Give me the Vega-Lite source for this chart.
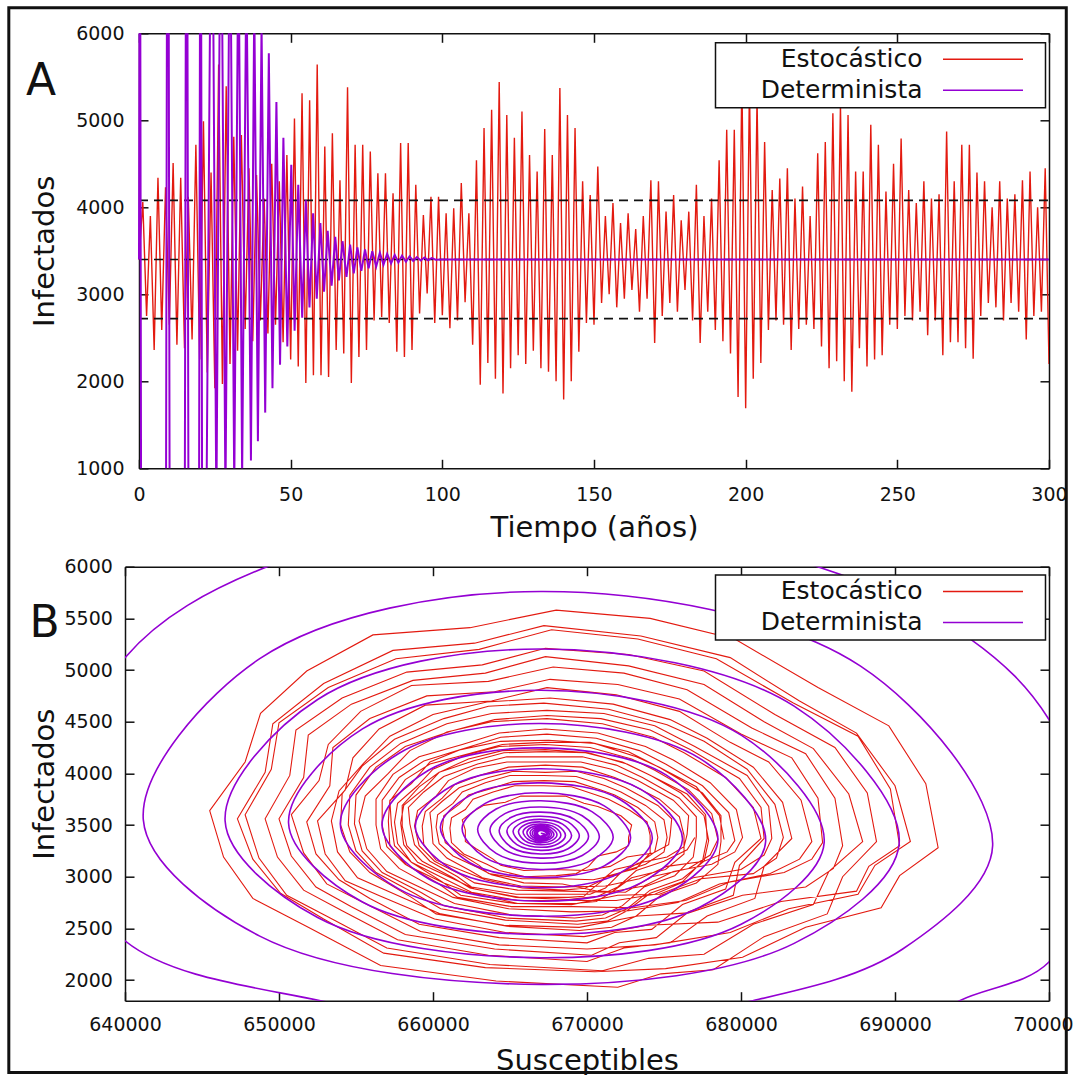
{
"$schema":"https://vega.github.io/schema/vega-lite/v6.json",
"background":"white",
"padding":{"left":7,"top":6.3,"right":0,"bottom":0},
"autosize":{"type":"pad"},
"spacing":98.4,
"bounds":"flush",
"resolve":{"scale":{"color":"independent"}},
"config":{
"font":"DejaVu Sans",
"view":{"stroke":null},
"axis":{"labelFont":"DejaVu Sans","labelFontSize":19,"labelColor":"#111","titleFont":"DejaVu Sans","titleFontSize":29,"titleFontWeight":"normal","titleColor":"#111","domainColor":"#111","domainWidth":1.5,"tickColor":"#111","tickWidth":1.5,"tickSize":-9,"grid":false,"labelFlush":false,"labelOverlap":false},
"legend":{"labelFont":"DejaVu Sans","labelFontSize":25,"labelColor":"#111","labelAlign":"right","labelOffset":-73,"labelLimit":0,"symbolType":"M-4,0H4M5.5,0","symbolSize":400,"symbolOffset":251,"symbolStrokeWidth":1.6,"padding":4,"rowPadding":5,"fillColor":"white","strokeColor":"#111","strokeWidth":1.5}
},
"datasets":{
"dl":[{"v":4080},{"v":3400},{"v":2720}],
"ar":[{"t":0,"v":3400},{"t":1.25,"v":4060},{"t":2.5,"v":2750},{"t":3.75,"v":3900},{"t":5,"v":2360},{"t":6.25,"v":4340},{"t":7.5,"v":2590},{"t":8.75,"v":4230},{"t":10,"v":2650},{"t":11.25,"v":4510},{"t":12.5,"v":2420},{"t":13.75,"v":4340},{"t":15,"v":2380},{"t":16.25,"v":4120},{"t":17.5,"v":2480},{"t":18.75,"v":4720},{"t":20,"v":2250},{"t":21.25,"v":4990},{"t":22.5,"v":2100},{"t":23.75,"v":4400},{"t":25,"v":1920},{"t":26.25,"v":5640},{"t":27.5,"v":1970},{"t":28.75,"v":5390},{"t":30,"v":2200},{"t":31.25,"v":4810},{"t":32.5,"v":2350},{"t":33.75,"v":4830},{"t":35,"v":2600},{"t":36.25,"v":4450},{"t":37.5,"v":2460},{"t":38.75,"v":4370},{"t":40,"v":2700},{"t":41.25,"v":4100},{"t":42.5,"v":2550},{"t":43.75,"v":4500},{"t":45,"v":2650},{"t":46.25,"v":4300},{"t":47.5,"v":2450},{"t":48.75,"v":4600},{"t":50,"v":2250},{"t":51.25,"v":5020},{"t":52.5,"v":2170},{"t":53.75,"v":5310},{"t":55,"v":1980},{"t":56.25,"v":5230},{"t":57.5,"v":2070},{"t":58.75,"v":5640},{"t":60,"v":2070},{"t":61.25,"v":4700},{"t":62.5,"v":2050},{"t":63.75,"v":4850},{"t":65,"v":2360},{"t":66.25,"v":4310},{"t":67.5,"v":2320},{"t":68.75,"v":5380},{"t":70,"v":1980},{"t":71.25,"v":4720},{"t":72.5,"v":2280},{"t":73.75,"v":4720},{"t":75,"v":2360},{"t":76.25,"v":4640},{"t":77.5,"v":2700},{"t":78.75,"v":4390},{"t":80,"v":2740},{"t":81.25,"v":4390},{"t":82.5,"v":2670},{"t":83.75,"v":4160},{"t":85,"v":2340},{"t":86.25,"v":4740},{"t":87.5,"v":2280},{"t":88.75,"v":4740},{"t":90,"v":2360},{"t":91.25,"v":4260},{"t":92.5,"v":2780},{"t":93.75,"v":3910},{"t":95,"v":3010},{"t":96.25,"v":4120},{"t":97.5,"v":2670},{"t":98.75,"v":4120},{"t":100,"v":2760},{"t":101.25,"v":3930},{"t":102.5,"v":2610},{"t":103.75,"v":3990},{"t":105,"v":2700},{"t":106.25,"v":4280},{"t":107.5,"v":2910},{"t":108.75,"v":3930},{"t":110,"v":2420},{"t":111.25,"v":4540},{"t":112.5,"v":1960},{"t":113.75,"v":4910},{"t":115,"v":2210},{"t":116.25,"v":5120},{"t":117.5,"v":2030},{"t":118.75,"v":5440},{"t":120,"v":1860},{"t":121.25,"v":5060},{"t":122.5,"v":2150},{"t":123.75,"v":4800},{"t":125,"v":2300},{"t":126.25,"v":5100},{"t":127.5,"v":2200},{"t":128.75,"v":4600},{"t":130,"v":2350},{"t":131.25,"v":4410},{"t":132.5,"v":2150},{"t":133.75,"v":4900},{"t":135,"v":2110},{"t":136.25,"v":4600},{"t":137.5,"v":2000},{"t":138.75,"v":5370},{"t":140,"v":1790},{"t":141.25,"v":5060},{"t":142.5,"v":2000},{"t":143.75,"v":4910},{"t":145,"v":2340},{"t":146.25,"v":4300},{"t":147.5,"v":2670},{"t":148.75,"v":4140},{"t":150,"v":2650},{"t":151.25,"v":4470},{"t":152.5,"v":2900},{"t":153.75,"v":3900},{"t":155,"v":3000},{"t":156.25,"v":4050},{"t":157.5,"v":2850},{"t":158.75,"v":3820},{"t":160,"v":2950},{"t":161.25,"v":3930},{"t":162.5,"v":3050},{"t":163.75,"v":3750},{"t":165,"v":2800},{"t":166.25,"v":3900},{"t":167.5,"v":2950},{"t":168.75,"v":4310},{"t":170,"v":2440},{"t":171.25,"v":4300},{"t":172.5,"v":2750},{"t":173.75,"v":3950},{"t":175,"v":2900},{"t":176.25,"v":4140},{"t":177.5,"v":2800},{"t":178.75,"v":3850},{"t":180,"v":3050},{"t":181.25,"v":3950},{"t":182.5,"v":2700},{"t":183.75,"v":4260},{"t":185,"v":2440},{"t":186.25,"v":3900},{"t":187.5,"v":2800},{"t":188.75,"v":4100},{"t":190,"v":2590},{"t":191.25,"v":4540},{"t":192.5,"v":2460},{"t":193.75,"v":4890},{"t":195,"v":2320},{"t":196.25,"v":4890},{"t":197.5,"v":1820},{"t":198.75,"v":5500},{"t":200,"v":1690},{"t":201.25,"v":5400},{"t":202.5,"v":2030},{"t":203.75,"v":5250},{"t":205,"v":2210},{"t":206.25,"v":4750},{"t":207.5,"v":2590},{"t":208.75,"v":4200},{"t":210,"v":2700},{"t":211.25,"v":4330},{"t":212.5,"v":2650},{"t":213.75,"v":4450},{"t":215,"v":2360},{"t":216.25,"v":4100},{"t":217.5,"v":2600},{"t":218.75,"v":4240},{"t":220,"v":2650},{"t":221.25,"v":3900},{"t":222.5,"v":2600},{"t":223.75,"v":4620},{"t":225,"v":2400},{"t":226.25,"v":4750},{"t":227.5,"v":2150},{"t":228.75,"v":5080},{"t":230,"v":2230},{"t":231.25,"v":5180},{"t":232.5,"v":2000},{"t":233.75,"v":5060},{"t":235,"v":1880},{"t":236.25,"v":4410},{"t":237.5,"v":2380},{"t":238.75,"v":4410},{"t":240,"v":2170},{"t":241.25,"v":4950},{"t":242.5,"v":2250},{"t":243.75,"v":4720},{"t":245,"v":2300},{"t":246.25,"v":4180},{"t":247.5,"v":2650},{"t":248.75,"v":4500},{"t":250,"v":2600},{"t":251.25,"v":4790},{"t":252.5,"v":2750},{"t":253.75,"v":4200},{"t":255,"v":2700},{"t":256.25,"v":4050},{"t":257.5,"v":2800},{"t":258.75,"v":4300},{"t":260,"v":2530},{"t":261.25,"v":4100},{"t":262.5,"v":2700},{"t":263.75,"v":4150},{"t":265,"v":2300},{"t":266.25,"v":4870},{"t":267.5,"v":2450},{"t":268.75,"v":4300},{"t":270,"v":2450},{"t":271.25,"v":4720},{"t":272.5,"v":2380},{"t":273.75,"v":4720},{"t":275,"v":2260},{"t":276.25,"v":4400},{"t":277.5,"v":2750},{"t":278.75,"v":4300},{"t":280,"v":2900},{"t":281.25,"v":4000},{"t":282.5,"v":2850},{"t":283.75,"v":4300},{"t":285,"v":2700},{"t":286.25,"v":4100},{"t":287.5,"v":2900},{"t":288.75,"v":4150},{"t":290,"v":2800},{"t":291.25,"v":4310},{"t":292.5,"v":2480},{"t":293.75,"v":4410},{"t":295,"v":2750},{"t":296.25,"v":4000},{"t":297.5,"v":2800},{"t":298.75,"v":4450},{"t":300,"v":2200}],
"ap":[{"t":0,"v":3400},{"t":0.3,"v":9000},{"t":0.7,"v":300},{"t":5,"v":100},{"t":8.9,"v":500},{"t":9.5,"v":12000},{"t":10.1,"v":500},{"t":12.5,"v":100},{"t":15.1,"v":600},{"t":15.7,"v":11000},{"t":16.3,"v":600},{"t":18,"v":200},{"t":19.8,"v":700},{"t":20.3,"v":10000},{"t":20.8,"v":700},{"t":22.2,"v":350},{"t":24,"v":9000},{"t":25.5,"v":500},{"t":27,"v":8400},{"t":28.5,"v":620},{"t":30,"v":7800},{"t":31.4,"v":750},{"t":32.8,"v":7300},{"t":34,"v":900},{"t":35.4,"v":6800},{"t":36.9,"v":1090},{"t":38,"v":6400},{"t":39.2,"v":1310},{"t":40.4,"v":6100},{"t":41.6,"v":1640},{"t":42.8,"v":5770},{"t":44,"v":1920},{"t":45.3,"v":5210},{"t":46.5,"v":2190},{"t":47.6,"v":4800},{"t":48.9,"v":2400},{"t":50.2,"v":4490},{"t":51.3,"v":2580},{"t":52.5,"v":4260},{"t":53.8,"v":2730},{"t":55,"v":4080},{"t":56.2,"v":2850},{"t":57.4,"v":3930},{"t":58.6,"v":2950},{"t":59.8,"v":3820},{"t":61,"v":3030},{"t":62.2,"v":3730},{"t":63.5,"v":3100},{"t":64.7,"v":3660},{"t":65.9,"v":3160},{"t":67.1,"v":3610},{"t":68.4,"v":3200},{"t":69.6,"v":3570},{"t":70.8,"v":3240},{"t":72,"v":3540},{"t":73.3,"v":3270},{"t":74.5,"v":3515},{"t":75.7,"v":3300},{"t":76.9,"v":3495},{"t":78.2,"v":3320},{"t":79.4,"v":3478},{"t":80.6,"v":3340},{"t":81.8,"v":3465},{"t":83.1,"v":3355},{"t":84.3,"v":3453},{"t":85.5,"v":3365},{"t":86.7,"v":3443},{"t":88,"v":3375},{"t":89.2,"v":3435},{"t":90.4,"v":3383},{"t":91.6,"v":3428},{"t":92.9,"v":3388},{"t":94.1,"v":3422},{"t":95.3,"v":3392},{"t":96.5,"v":3415},{"t":97.8,"v":3397},{"t":100,"v":3400},{"t":300,"v":3400}],
"bp":[{"s":690000,"i":1450},{"s":694200,"i":1800},{"s":700000,"i":2175},{"s":702900,"i":3250},{"s":700000,"i":4520},{"s":694900,"i":5300},{"s":684980,"i":6000},{"s":667000,"i":6500},{"s":649225,"i":6000},{"s":640000,"i":5120},{"s":635500,"i":3600},{"s":640000,"i":2380},{"s":652700,"i":1800},{"s":667000,"i":1560},{"s":680760,"i":1800},{"s":690500,"i":2300},
{"s":696340,"i":3300},{"s":687740,"i":5040},{"s":667000,"i":5760},{"s":648750,"i":5110},{"s":641190,"i":3550},{"s":648750,"i":2425},{"s":667000,"i":1958},{"s":683450,"i":2355},
{"s":690270,"i":3320},{"s":683450,"i":4650},{"s":667000,"i":5204},{"s":652510,"i":4715},{"s":646500,"i":3540},{"s":652510,"i":2605},{"s":667000,"i":2216},{"s":680010,"i":2540},
{"s":685400,"i":3330},{"s":680010,"i":4370},{"s":667000,"i":4804},{"s":655420,"i":4430},{"s":650620,"i":3520},{"s":655420,"i":2755},{"s":667000,"i":2441},{"s":677320,"i":2705},
{"s":681600,"i":3340},{"s":677320,"i":4145},{"s":667000,"i":4482},{"s":657800,"i":4195},{"s":653980,"i":3510},{"s":657800,"i":2880},{"s":667000,"i":2618},{"s":675130,"i":2830},
{"s":678500,"i":3350},{"s":675130,"i":3985},{"s":667000,"i":4247},{"s":659710,"i":4030},{"s":656690,"i":3500},{"s":659710,"i":2980},{"s":667000,"i":2763},{"s":673500,"i":2940},
{"s":676200,"i":3360},{"s":673500,"i":3845},{"s":667000,"i":4044},{"s":661240,"i":3880},{"s":658850,"i":3490},{"s":661240,"i":3070},{"s":667000,"i":2893},{"s":672120,"i":3035},
{"s":674240,"i":3370},{"s":672120,"i":3750},{"s":667000,"i":3908},{"s":662390,"i":3785},{"s":660480,"i":3480},{"s":662390,"i":3135},{"s":667000,"i":2990},{"s":671120,"i":3105},
{"s":672830,"i":3375},{"s":671120,"i":3685},{"s":667000,"i":3812},{"s":663390,"i":3710},{"s":661890,"i":3470},{"s":663390,"i":3185},{"s":667000,"i":3070},{"s":670320,"i":3160},
{"s":671700,"i":3380},{"s":670320,"i":3630},{"s":667000,"i":3735},{"s":664100,"i":3655},{"s":662900,"i":3460},{"s":664100,"i":3225},{"s":667000,"i":3130},{"s":669690,"i":3205},
{"s":670800,"i":3385},{"s":669690,"i":3590},{"s":667000,"i":3675},{"s":664670,"i":3610},{"s":663700,"i":3455},{"s":664670,"i":3260},{"s":667000,"i":3180},{"s":669190,"i":3240},
{"s":670100,"i":3390},{"s":669190,"i":3555},{"s":667000,"i":3625},{"s":665090,"i":3575},{"s":664300,"i":3450},{"s":665090,"i":3285},{"s":667000,"i":3220},{"s":668770,"i":3270},
{"s":669500,"i":3395},{"s":668770,"i":3530},{"s":667000,"i":3585},{"s":665445,"i":3545},{"s":664800,"i":3445},{"s":665445,"i":3310},{"s":667000,"i":3255},{"s":668415,"i":3297},
{"s":669000,"i":3398},{"s":668415,"i":3509},{"s":667000,"i":3555},{"s":665730,"i":3521},{"s":665200,"i":3440},{"s":665730,"i":3330},{"s":667000,"i":3285},{"s":668130,"i":3319},
{"s":668600,"i":3400},{"s":668130,"i":3492},{"s":667000,"i":3530},{"s":665975,"i":3503},{"s":665550,"i":3437},{"s":665975,"i":3347},{"s":667000,"i":3310},{"s":667920,"i":3337},
{"s":668300,"i":3402},{"s":667920,"i":3478},{"s":667000,"i":3510},{"s":666190,"i":3488},{"s":665850,"i":3434},{"s":666190,"i":3360},{"s":667000,"i":3330},{"s":667740,"i":3352},
{"s":668050,"i":3404},{"s":667740,"i":3468},{"s":667000,"i":3494},{"s":666365,"i":3476},{"s":666100,"i":3431},{"s":666365,"i":3371},{"s":667000,"i":3346},{"s":667600,"i":3364},
{"s":667850,"i":3406},{"s":667600,"i":3458},{"s":667000,"i":3480},{"s":666505,"i":3465},{"s":666300,"i":3428},{"s":666505,"i":3379},{"s":667000,"i":3359},{"s":667495,"i":3373},
{"s":667700,"i":3408},{"s":667495,"i":3451},{"s":667000,"i":3469},{"s":666611,"i":3456},{"s":666450,"i":3426},{"s":666611,"i":3386},{"s":667000,"i":3369},{"s":667403,"i":3381},
{"s":667570,"i":3410},{"s":667403,"i":3445},{"s":667000,"i":3460},{"s":666703,"i":3449},{"s":666580,"i":3424},{"s":666703,"i":3391},{"s":667000,"i":3378},{"s":667325,"i":3393},
{"s":667460,"i":3412},{"s":667325,"i":3441},{"s":667000,"i":3453},{"s":666781,"i":3443},{"s":666690,"i":3422},{"s":666781,"i":3397},{"s":667000,"i":3385},{"s":667260,"i":3401},
{"s":667370,"i":3413},{"s":667260,"i":3436},{"s":667000,"i":3447},{"s":666830,"i":3438},{"s":666780,"i":3421},{"s":666850,"i":3400},{"s":667000,"i":3391},{"s":667150,"i":3402},{"s":667250,"i":3413},{"s":667000,"i":3420}],
"br":[
{"s":678900,"i":3360},{"s":678600,"i":3590},{"s":677100,"i":3870},{"s":674700,"i":4060},{"s":673200,"i":4160},{"s":670500,"i":4290},{"s":667500,"i":4320},{"s":664400,"i":4310},{"s":661800,"i":4230},{"s":659800,"i":4110},{"s":658600,"i":3900},{"s":657200,"i":3740},{"s":657100,"i":3540},{"s":657200,"i":3300},{"s":658300,"i":3110},{"s":660700,"i":2940},{"s":662300,"i":2850},{"s":665500,"i":2740},{"s":669000,"i":2730},{"s":672000,"i":2820},{"s":674700,"i":2830},{"s":677400,"i":2980},{"s":680800,"i":3030},{"s":682300,"i":3180},
{"s":682750,"i":3380},{"s":682200,"i":3700},{"s":680400,"i":4040},{"s":677600,"i":4310},{"s":675200,"i":4470},{"s":671400,"i":4620},{"s":667200,"i":4680},{"s":663600,"i":4650},{"s":660700,"i":4530},{"s":657500,"i":4330},{"s":655400,"i":4070},{"s":654100,"i":3800},{"s":654000,"i":3500},{"s":654600,"i":3240},{"s":655900,"i":3040},{"s":658600,"i":2800},{"s":660200,"i":2640},{"s":664600,"i":2530},{"s":669500,"i":2510},{"s":673300,"i":2620},{"s":676600,"i":2650},{"s":680100,"i":2820},{"s":684200,"i":2900},{"s":686000,"i":3080},
{"s":686600,"i":3300},{"s":686100,"i":3760},{"s":684200,"i":4190},{"s":680700,"i":4440},{"s":676500,"i":4810},{"s":672400,"i":4970},{"s":667800,"i":5030},{"s":663600,"i":4890},{"s":658600,"i":4850},{"s":655300,"i":4600},{"s":653200,"i":4280},{"s":652600,"i":3930},{"s":650800,"i":3600},{"s":651600,"i":3230},{"s":653100,"i":2930},{"s":655600,"i":2740},{"s":659200,"i":2470},{"s":664300,"i":2340},{"s":670000,"i":2300},{"s":674400,"i":2340},{"s":679300,"i":2460},{"s":683100,"i":2690},{"s":687600,"i":2830},{"s":688700,"i":3110},
{"s":691000,"i":3340},{"s":690000,"i":3880},{"s":687500,"i":4390},{"s":683800,"i":4700},{"s":679300,"i":5120},{"s":673500,"i":5330},{"s":667200,"i":5430},{"s":662700,"i":5260},{"s":657400,"i":5190},{"s":652900,"i":4870},{"s":649600,"i":4480},{"s":649100,"i":4010},{"s":647300,"i":3560},{"s":648300,"i":3170},{"s":650100,"i":2840},{"s":652900,"i":2590},{"s":656800,"i":2260},{"s":663400,"i":2120},{"s":670500,"i":2080},{"s":675100,"i":2110},{"s":680100,"i":2220},{"s":684200,"i":2510},{"s":689100,"i":2700},{"s":690300,"i":3010},
{"s":692800,"i":3280},{"s":692000,"i":3900},{"s":689600,"i":4460},{"s":685000,"i":4830},{"s":679600,"i":5300},{"s":674100,"i":5500},{"s":668000,"i":5580},{"s":662400,"i":5410},{"s":656100,"i":5340},{"s":651800,"i":4990},{"s":648800,"i":4580},{"s":647800,"i":4110},{"s":645500,"i":3640},{"s":646400,"i":3190},{"s":648300,"i":2790},{"s":651900,"i":2510},{"s":656600,"i":2140},{"s":664100,"i":1990},{"s":672000,"i":1930},{"s":674800,"i":2060},{"s":678200,"i":2100},{"s":681500,"i":2420},{"s":685600,"i":2640},{"s":686600,"i":3000},
{"s":688800,"i":3340},{"s":688200,"i":3810},{"s":686100,"i":4250},{"s":682200,"i":4570},{"s":677600,"i":4990},{"s":672700,"i":5150},{"s":667300,"i":5210},{"s":663200,"i":5050},{"s":658300,"i":4980},{"s":654100,"i":4730},{"s":651100,"i":4420},{"s":650700,"i":3980},{"s":649100,"i":3560},{"s":649900,"i":3190},{"s":651600,"i":2870},{"s":654100,"i":2670},{"s":657700,"i":2390},{"s":663600,"i":2240},{"s":670000,"i":2180},{"s":672400,"i":2310},{"s":675400,"i":2360},{"s":677800,"i":2620},{"s":680900,"i":2790},{"s":681500,"i":3100},
{"s":683300,"i":3370},{"s":682700,"i":3720},{"s":680800,"i":4060},{"s":677800,"i":4340},{"s":675400,"i":4520},{"s":671700,"i":4670},{"s":667600,"i":4730},{"s":663500,"i":4690},{"s":660000,"i":4570},{"s":657200,"i":4360},{"s":655500,"i":4100},{"s":653900,"i":3830},{"s":653400,"i":3540},{"s":653800,"i":3240},{"s":655100,"i":2990},{"s":658300,"i":2780},{"s":660500,"i":2640},{"s":664800,"i":2520},{"s":669500,"i":2480},{"s":671600,"i":2510},{"s":673200,"i":2620},{"s":674800,"i":2820},{"s":677100,"i":2940},{"s":678500,"i":3120},
{"s":678700,"i":3340},{"s":678700,"i":3590},{"s":677500,"i":3810},{"s":674800,"i":4050},{"s":672700,"i":4210},{"s":670200,"i":4300},{"s":667300,"i":4300},{"s":664500,"i":4280},{"s":662300,"i":4190},{"s":659800,"i":4090},{"s":658200,"i":3940},{"s":657200,"i":3730},{"s":657300,"i":3500},{"s":657500,"i":3300},{"s":658600,"i":3140},{"s":660600,"i":2950},{"s":661800,"i":2820},{"s":665300,"i":2740},{"s":669200,"i":2740},{"s":670600,"i":2760},{"s":671400,"i":2830},{"s":672900,"i":2990},{"s":675100,"i":3070},{"s":676300,"i":3220},
{"s":676300,"i":3400},{"s":676000,"i":3580},{"s":674700,"i":3750},{"s":672900,"i":3890},{"s":671800,"i":3960},{"s":669700,"i":4060},{"s":667300,"i":4080},{"s":664900,"i":4060},{"s":663000,"i":3980},{"s":661400,"i":3890},{"s":660600,"i":3760},{"s":659500,"i":3630},{"s":659300,"i":3490},{"s":659400,"i":3310},{"s":660200,"i":3160},{"s":662200,"i":3040},{"s":663400,"i":2970},{"s":665800,"i":2890},{"s":668500,"i":2870},{"s":669900,"i":2890},{"s":670900,"i":2960},{"s":671800,"i":3070},{"s":673300,"i":3120},{"s":674400,"i":3240},
{"s":674600,"i":3380},{"s":674400,"i":3530},{"s":673300,"i":3670},{"s":671800,"i":3790},{"s":670900,"i":3840},{"s":669200,"i":3920},{"s":667200,"i":3930},{"s":665200,"i":3920},{"s":663700,"i":3850},{"s":662300,"i":3790},{"s":661700,"i":3700},{"s":660700,"i":3590},{"s":660600,"i":3460},{"s":660800,"i":3330},{"s":661700,"i":3230},{"s":663000,"i":3110},{"s":663600,"i":3030},{"s":665800,"i":2980},{"s":668300,"i":2980},{"s":670400,"i":2970},{"s":672000,"i":3020},{"s":673300,"i":3130},{"s":675200,"i":3190},{"s":676300,"i":3290},
{"s":676500,"i":3410},{"s":676600,"i":3590},{"s":675600,"i":3740},{"s":673300,"i":3930},{"s":671600,"i":4040},{"s":669600,"i":4110},{"s":667400,"i":4110},{"s":664800,"i":4110},{"s":662700,"i":4050},{"s":661000,"i":3930},{"s":660200,"i":3780},{"s":659000,"i":3640},{"s":658800,"i":3490},{"s":659100,"i":3300},{"s":660100,"i":3150},{"s":661800,"i":3020},{"s":662700,"i":2940},{"s":665500,"i":2870},{"s":668600,"i":2860},{"s":671400,"i":2850},{"s":673700,"i":2910},{"s":675600,"i":3050},{"s":678100,"i":3120},{"s":679600,"i":3240},
{"s":680100,"i":3380},{"s":679700,"i":3650},{"s":678000,"i":3910},{"s":675600,"i":4130},{"s":673800,"i":4260},{"s":670700,"i":4390},{"s":667300,"i":4430},{"s":664300,"i":4390},{"s":661900,"i":4280},{"s":659100,"i":4160},{"s":657400,"i":3990},{"s":656300,"i":3750},{"s":656300,"i":3500},{"s":656600,"i":3270},{"s":657800,"i":3080},{"s":660000,"i":2900},{"s":661300,"i":2800},{"s":664900,"i":2690},{"s":669000,"i":2660},{"s":672700,"i":2670},{"s":675900,"i":2750},{"s":678600,"i":2930},{"s":681900,"i":3030},{"s":683800,"i":3170},
{"s":684600,"i":3340},{"s":683900,"i":3740},{"s":681800,"i":4110},{"s":679300,"i":4300},{"s":676000,"i":4600},{"s":671900,"i":4760},{"s":667400,"i":4830},{"s":663800,"i":4700},{"s":659500,"i":4660},{"s":656500,"i":4430},{"s":654800,"i":4150},{"s":654300,"i":3840},{"s":652500,"i":3540},{"s":653000,"i":3220},{"s":654300,"i":2960},{"s":656600,"i":2810},{"s":660100,"i":2590},{"s":664700,"i":2460},{"s":669800,"i":2420},{"s":673900,"i":2530},{"s":678500,"i":2560},{"s":682600,"i":2760},{"s":687500,"i":2860},{"s":688300,"i":3100},
{"s":690300,"i":3300},{"s":689700,"i":3850},{"s":687600,"i":4360},{"s":683400,"i":4680},{"s":678400,"i":5110},{"s":673300,"i":5300},{"s":667700,"i":5390},{"s":663000,"i":5200},{"s":657600,"i":5110},{"s":653200,"i":4830},{"s":650000,"i":4490},{"s":649500,"i":4040},{"s":647800,"i":3600},{"s":648700,"i":3180},{"s":650500,"i":2820},{"s":653200,"i":2610},{"s":657000,"i":2310},{"s":663700,"i":2150},{"s":671000,"i":2090},{"s":674000,"i":2210},{"s":677600,"i":2250},{"s":680800,"i":2540},{"s":684700,"i":2730},{"s":685700,"i":3050},
{"s":687900,"i":3340},{"s":687000,"i":3800},{"s":684700,"i":4240},{"s":681500,"i":4500},{"s":677600,"i":4860},{"s":672700,"i":5040},{"s":667300,"i":5130},{"s":663400,"i":4970},{"s":658700,"i":4900},{"s":654700,"i":4670},{"s":651900,"i":4370},{"s":651600,"i":3960},{"s":650000,"i":3560},{"s":650800,"i":3200},{"s":652400,"i":2900},{"s":654700,"i":2710},{"s":658200,"i":2440},{"s":664000,"i":2300},{"s":670300,"i":2240},{"s":672100,"i":2360},{"s":674500,"i":2410},{"s":676600,"i":2660},{"s":679500,"i":2820},{"s":679900,"i":3110},
{"s":681500,"i":3370},{"s":681300,"i":3670},{"s":679900,"i":3950},{"s":676700,"i":4230},{"s":674100,"i":4420},{"s":670900,"i":4530},{"s":667400,"i":4560},{"s":664000,"i":4520},{"s":661200,"i":4410},{"s":658200,"i":4260},{"s":656300,"i":4060},{"s":655000,"i":3790},{"s":654900,"i":3510},{"s":655400,"i":3250},{"s":656700,"i":3040},{"s":659200,"i":2850},{"s":660700,"i":2720},{"s":664800,"i":2600},{"s":669300,"i":2570},{"s":671200,"i":2600},{"s":672600,"i":2690},{"s":674100,"i":2870},{"s":676200,"i":2980},{"s":677600,"i":3150},
{"s":677900,"i":3350},{"s":677600,"i":3590},{"s":676100,"i":3810},{"s":674000,"i":3990},{"s":672600,"i":4090},{"s":670100,"i":4200},{"s":667300,"i":4230},{"s":664500,"i":4220},{"s":662300,"i":4140},{"s":660400,"i":4010},{"s":659400,"i":3850},{"s":658100,"i":3690},{"s":657900,"i":3520},{"s":658100,"i":3310},{"s":659000,"i":3140},{"s":661300,"i":2980},{"s":662700,"i":2880},{"s":665600,"i":2800},{"s":668800,"i":2800},{"s":669800,"i":2810},{"s":670300,"i":2880},{"s":671400,"i":3010},{"s":673200,"i":3080},{"s":674100,"i":3230},
{"s":674100,"i":3400},{"s":673900,"i":3530},{"s":672800,"i":3640},{"s":671400,"i":3750},{"s":670600,"i":3790},{"s":669000,"i":3870},{"s":667200,"i":3880},{"s":665300,"i":3880},{"s":663900,"i":3820},{"s":662600,"i":3750},{"s":662100,"i":3650},{"s":661200,"i":3570},{"s":661100,"i":3470},{"s":661200,"i":3330},{"s":662000,"i":3220},{"s":663500,"i":3120},{"s":664300,"i":3060},{"s":666000,"i":3000},{"s":668000,"i":3010},{"s":669300,"i":3030},{"s":670100,"i":3100},{"s":670700,"i":3200},{"s":671900,"i":3240},{"s":672700,"i":3300},
{"s":672700,"i":3380},{"s":672900,"i":3500},{"s":672200,"i":3590},{"s":670700,"i":3680},{"s":669800,"i":3710},{"s":668600,"i":3780},{"s":667100,"i":3780},{"s":665700,"i":3780},{"s":664700,"i":3720},{"s":663300,"i":3690},{"s":662600,"i":3630},{"s":661900,"i":3550},{"s":662100,"i":3450},{"s":662100,"i":3340},{"s":662800,"i":3270},{"s":663900,"i":3170},{"s":664400,"i":3110},{"s":665900,"i":3060},{"s":667800,"i":3070},{"s":669900,"i":3060},{"s":671500,"i":3100},{"s":672600,"i":3190},{"s":674300,"i":3230},{"s":675300,"i":3310},
{"s":675400,"i":3400},{"s":675500,"i":3560},{"s":674600,"i":3690},{"s":672500,"i":3860},{"s":671100,"i":3950},{"s":669300,"i":4020},{"s":667300,"i":4010},{"s":665200,"i":4020},{"s":663600,"i":3960},{"s":661700,"i":3860},{"s":660600,"i":3730},{"s":659800,"i":3620},{"s":659900,"i":3490},{"s":660000,"i":3320},{"s":660900,"i":3180},{"s":662400,"i":3060},{"s":663200,"i":2990},{"s":665700,"i":2910},{"s":668500,"i":2900},{"s":671200,"i":2910},{"s":673400,"i":2980},{"s":675200,"i":3100},{"s":677600,"i":3150},{"s":679100,"i":3240},
{"s":679600,"i":3350},{"s":679200,"i":3620},{"s":677500,"i":3880},{"s":675100,"i":4090},{"s":673400,"i":4220},{"s":670600,"i":4340},{"s":667400,"i":4380},{"s":664400,"i":4350},{"s":662000,"i":4240},{"s":659400,"i":4120},{"s":657800,"i":3960},{"s":656700,"i":3740},{"s":656700,"i":3500},{"s":657000,"i":3290},{"s":658200,"i":3120},{"s":660400,"i":2930},{"s":661600,"i":2800},{"s":665100,"i":2710},{"s":669100,"i":2710},{"s":673000,"i":2700},{"s":676400,"i":2770},{"s":679300,"i":2950},{"s":682800,"i":3040},{"s":684600,"i":3170},
{"s":685300,"i":3330},{"s":685000,"i":3760},{"s":683300,"i":4150},{"s":680000,"i":4380},{"s":676000,"i":4720},{"s":672000,"i":4860},{"s":667600,"i":4910},{"s":664000,"i":4790},{"s":659600,"i":4750},{"s":655900,"i":4530},{"s":653500,"i":4250},{"s":653300,"i":3880},{"s":651800,"i":3530},{"s":652400,"i":3220},{"s":653900,"i":2970},{"s":655900,"i":2790},{"s":659100,"i":2540},{"s":664300,"i":2410},{"s":670000,"i":2360},{"s":671800,"i":2460},{"s":674200,"i":2490},{"s":676200,"i":2730},{"s":679000,"i":2880},{"s":679600,"i":3140},
{"s":681300,"i":3370},{"s":680800,"i":3670},{"s":679000,"i":3960},{"s":676300,"i":4200},{"s":674300,"i":4350},{"s":671000,"i":4480},{"s":667400,"i":4530},{"s":663800,"i":4500},{"s":660900,"i":4400},{"s":658500,"i":4220},{"s":657100,"i":4000},{"s":655600,"i":3780},{"s":655200,"i":3540},{"s":655700,"i":3270},{"s":657000,"i":3050},{"s":659700,"i":2860},{"s":661400,"i":2740},{"s":665100,"i":2630},{"s":669200,"i":2600},{"s":671000,"i":2630},{"s":672300,"i":2720},{"s":673700,"i":2900},{"s":675700,"i":3010},{"s":676900,"i":3190},
{"s":677100,"i":3390},{"s":677100,"i":3580},{"s":676000,"i":3760},{"s":673600,"i":3960},{"s":671900,"i":4080},{"s":669700,"i":4160},{"s":667300,"i":4160},{"s":664800,"i":4160},{"s":662900,"i":4090},{"s":660700,"i":3970},{"s":659400,"i":3820},{"s":658400,"i":3670},{"s":658500,"i":3510},{"s":658800,"i":3310},{"s":659800,"i":3150},{"s":661600,"i":3000},{"s":662500,"i":2900},{"s":665400,"i":2830},{"s":668700,"i":2830},{"s":670200,"i":2830},{"s":671200,"i":2890},{"s":672200,"i":3040},{"s":673800,"i":3120},{"s":675000,"i":3240},
{"s":675200,"i":3380},{"s":675000,"i":3550},{"s":673800,"i":3690},{"s":672200,"i":3820},{"s":671200,"i":3880},{"s":669300,"i":3970},{"s":667200,"i":3980},{"s":665000,"i":3980},{"s":663400,"i":3910},{"s":661900,"i":3820},{"s":661300,"i":3710},{"s":660300,"i":3600},{"s":660200,"i":3480},{"s":660400,"i":3320},{"s":661300,"i":3200},{"s":662900,"i":3090},{"s":663800,"i":3020},{"s":665900,"i":2940},{"s":668400,"i":2930},{"s":670700,"i":2860},{"s":672500,"i":2850},{"s":674200,"i":3000},{"s":676600,"i":3080},{"s":678000,"i":3210},
{"s":678500,"i":3360},{"s":678100,"i":3610},{"s":676600,"i":3840},{"s":674400,"i":4030},{"s":672900,"i":4140},{"s":670200,"i":4250},{"s":667300,"i":4280},{"s":664300,"i":4260},{"s":662000,"i":4170},{"s":660000,"i":4040},{"s":659000,"i":3880},{"s":657700,"i":3710},{"s":657500,"i":3530},{"s":657700,"i":3320},{"s":658600,"i":3140},{"s":661000,"i":2960},{"s":662500,"i":2850},{"s":665500,"i":2770},{"s":668900,"i":2770},{"s":671900,"i":2770},{"s":674400,"i":2830},{"s":676900,"i":2990},{"s":680000,"i":3070},{"s":681500,"i":3210},
{"s":682000,"i":3370},{"s":681800,"i":3680},{"s":680400,"i":3980},{"s":677000,"i":4260},{"s":674400,"i":4460},{"s":671100,"i":4580},{"s":667400,"i":4610},{"s":663800,"i":4580},{"s":660900,"i":4480},{"s":657900,"i":4290},{"s":655900,"i":4060},{"s":654600,"i":3790},{"s":654500,"i":3500},{"s":655000,"i":3250},{"s":656300,"i":3040},{"s":658900,"i":2830},{"s":660500,"i":2690},{"s":664700,"i":2580},{"s":669400,"i":2540},{"s":671300,"i":2570},{"s":672600,"i":2670},{"s":674100,"i":2840},{"s":676200,"i":2950},{"s":677500,"i":3150},
{"s":677800,"i":3370},{"s":677700,"i":3600},{"s":676500,"i":3800},{"s":674000,"i":3990},{"s":672300,"i":4110},{"s":669900,"i":4200},{"s":667300,"i":4210},{"s":664600,"i":4200},{"s":662600,"i":4120},{"s":660400,"i":4010},{"s":659100,"i":3870},{"s":658000,"i":3690},{"s":658000,"i":3490},{"s":658300,"i":3300},{"s":659300,"i":3150},{"s":661300,"i":2990},{"s":662400,"i":2890},{"s":665400,"i":2800},{"s":668800,"i":2780},{"s":670700,"i":2810},{"s":672000,"i":2900},{"s":673200,"i":3060},{"s":675000,"i":3150},{"s":676500,"i":3260},{"s":677000,"i":3380}]
},
"vconcat":[
{
"width":924,"height":435,
"resolve":{"axis":{"x":"independent","y":"independent"}},
"layer":[
{"data":{"values":[{}]},"mark":{"type":"rect","filled":false,"stroke":"#111","strokeWidth":3,"clip":false},
"encoding":{"x":{"datum":-42.92,"type":"quantitative","scale":{"domain":[0,300],"range":[14,924],"nice":false,"zero":false},"axis":null},"x2":{"datum":305.7},"y":{"datum":6293,"type":"quantitative","scale":{"domain":[1000,6000],"nice":false,"zero":false},"axis":null},"y2":{"datum":-5945}}},
{"data":{"values":[{"lab":"A"}]},"mark":{"type":"text","align":"left","baseline":"alphabetic","fontSize":44,"font":"DejaVu Sans","color":"#111","clip":false},
"encoding":{"text":{"field":"lab"},"x":{"datum":-37.22,"type":"quantitative","scale":{"domain":[0,300],"range":[14,924],"nice":false,"zero":false},"axis":null},"y":{"datum":5291,"type":"quantitative","scale":{"domain":[1000,6000],"nice":false,"zero":false},"axis":null}}},
{"data":{"name":"ar"},"mark":{"type":"line","strokeWidth":1.4,"clip":true},
"encoding":{"x":{"field":"t","type":"quantitative","scale":{"domain":[0,300],"range":[14,924],"nice":false,"zero":false},"axis":{"orient":"bottom","values":[0,50,100,150,200,250,300],"title":"Tiempo (años)","labelPadding":26.2,"titleY":68.4,"titleBaseline":"alphabetic"}},
"y":{"field":"v","type":"quantitative","scale":{"domain":[1000,6000],"nice":false,"zero":false},"axis":{"orient":"left","offset":-14,"format":"d","values":[1000,2000,3000,4000,5000,6000],"title":"Infectados","labelPadding":24,"titleX":-86,"titleY":217.5,"titleAngle":-90,"titleBaseline":"alphabetic","titleAlign":"center"}},
"color":{"datum":"Estocástico","scale":{"domain":["Estocástico","Determinista"],"range":["#e31a10","#9400d3"]},"legend":{"orient":"none","legendX":590.5,"legendY":9.4,"title":null}}}},
{"data":{"name":"dl"},"mark":{"type":"rule","strokeDash":[9,6],"strokeWidth":1.6,"color":"#111"},
"encoding":{"x":{"datum":0,"type":"quantitative","scale":{"domain":[0,300],"range":[14,924],"nice":false,"zero":false},"axis":null},"x2":{"datum":300},"y":{"field":"v","type":"quantitative","scale":{"domain":[1000,6000],"nice":false,"zero":false},"axis":null}}},
{"data":{"name":"ap"},"mark":{"type":"line","strokeWidth":2,"clip":true},
"encoding":{"x":{"field":"t","type":"quantitative","scale":{"domain":[0,300],"range":[14,924],"nice":false,"zero":false},"axis":{"orient":"top","values":[0,50,100,150,200,250,300],"labels":false,"title":null}},
"y":{"field":"v","type":"quantitative","scale":{"domain":[1000,6000],"nice":false,"zero":false},"axis":{"orient":"right","values":[1000,2000,3000,4000,5000,6000],"labels":false,"title":null}},
"color":{"datum":"Determinista"}}}
]
},
{
"width":924,"height":434,
"resolve":{"axis":{"x":"independent","y":"independent"}},
"layer":[
{"data":{"values":[{"lab":"B"}]},"mark":{"type":"text","align":"left","baseline":"alphabetic","fontSize":44,"font":"DejaVu Sans","color":"#111","clip":false},
"encoding":{"text":{"field":"lab"},"x":{"datum":633805,"type":"quantitative","scale":{"domain":[640000,700000],"nice":false,"zero":false},"axis":null},"y":{"datum":5323,"type":"quantitative","scale":{"domain":[1800,6000],"nice":false,"zero":false},"axis":null}}},
{"data":{"name":"br"},"mark":{"type":"line","strokeWidth":1.1,"clip":true},
"encoding":{"x":{"field":"s","type":"quantitative","scale":{"domain":[640000,700000],"nice":false,"zero":false},"axis":{"orient":"bottom","values":[640000,650000,660000,670000,680000,690000,700000],"format":"d","title":"Susceptibles","labelPadding":23.5,"titleY":69.3,"titleBaseline":"alphabetic"}},
"y":{"field":"i","type":"quantitative","scale":{"domain":[1800,6000],"nice":false,"zero":false},"axis":{"orient":"left","format":"d","values":[2000,2500,3000,3500,4000,4500,5000,5500,6000],"title":"Infectados","labelPadding":21.7,"titleX":-71.7,"titleY":217,"titleAngle":-90,"titleBaseline":"alphabetic","titleAlign":"center"}},
"order":{"value":null},
"color":{"datum":"Estocástico","scale":{"domain":["Estocástico","Determinista"],"range":["#e31a10","#9400d3"]},"legend":{"orient":"none","legendX":590.5,"legendY":8.3,"title":null}}}},
{"data":{"name":"bp"},"mark":{"type":"line","strokeWidth":1.6,"clip":true,"interpolate":"catmull-rom"},
"encoding":{"x":{"field":"s","type":"quantitative","scale":{"domain":[640000,700000],"nice":false,"zero":false},"axis":{"orient":"top","values":[640000,650000,660000,670000,680000,690000,700000],"labels":false,"title":null}},
"y":{"field":"i","type":"quantitative","scale":{"domain":[1800,6000],"nice":false,"zero":false},"axis":{"orient":"right","values":[2000,2500,3000,3500,4000,4500,5000,5500,6000],"labels":false,"title":null}},
"order":{"value":null},
"color":{"datum":"Determinista"}}}
]
}
]
}
